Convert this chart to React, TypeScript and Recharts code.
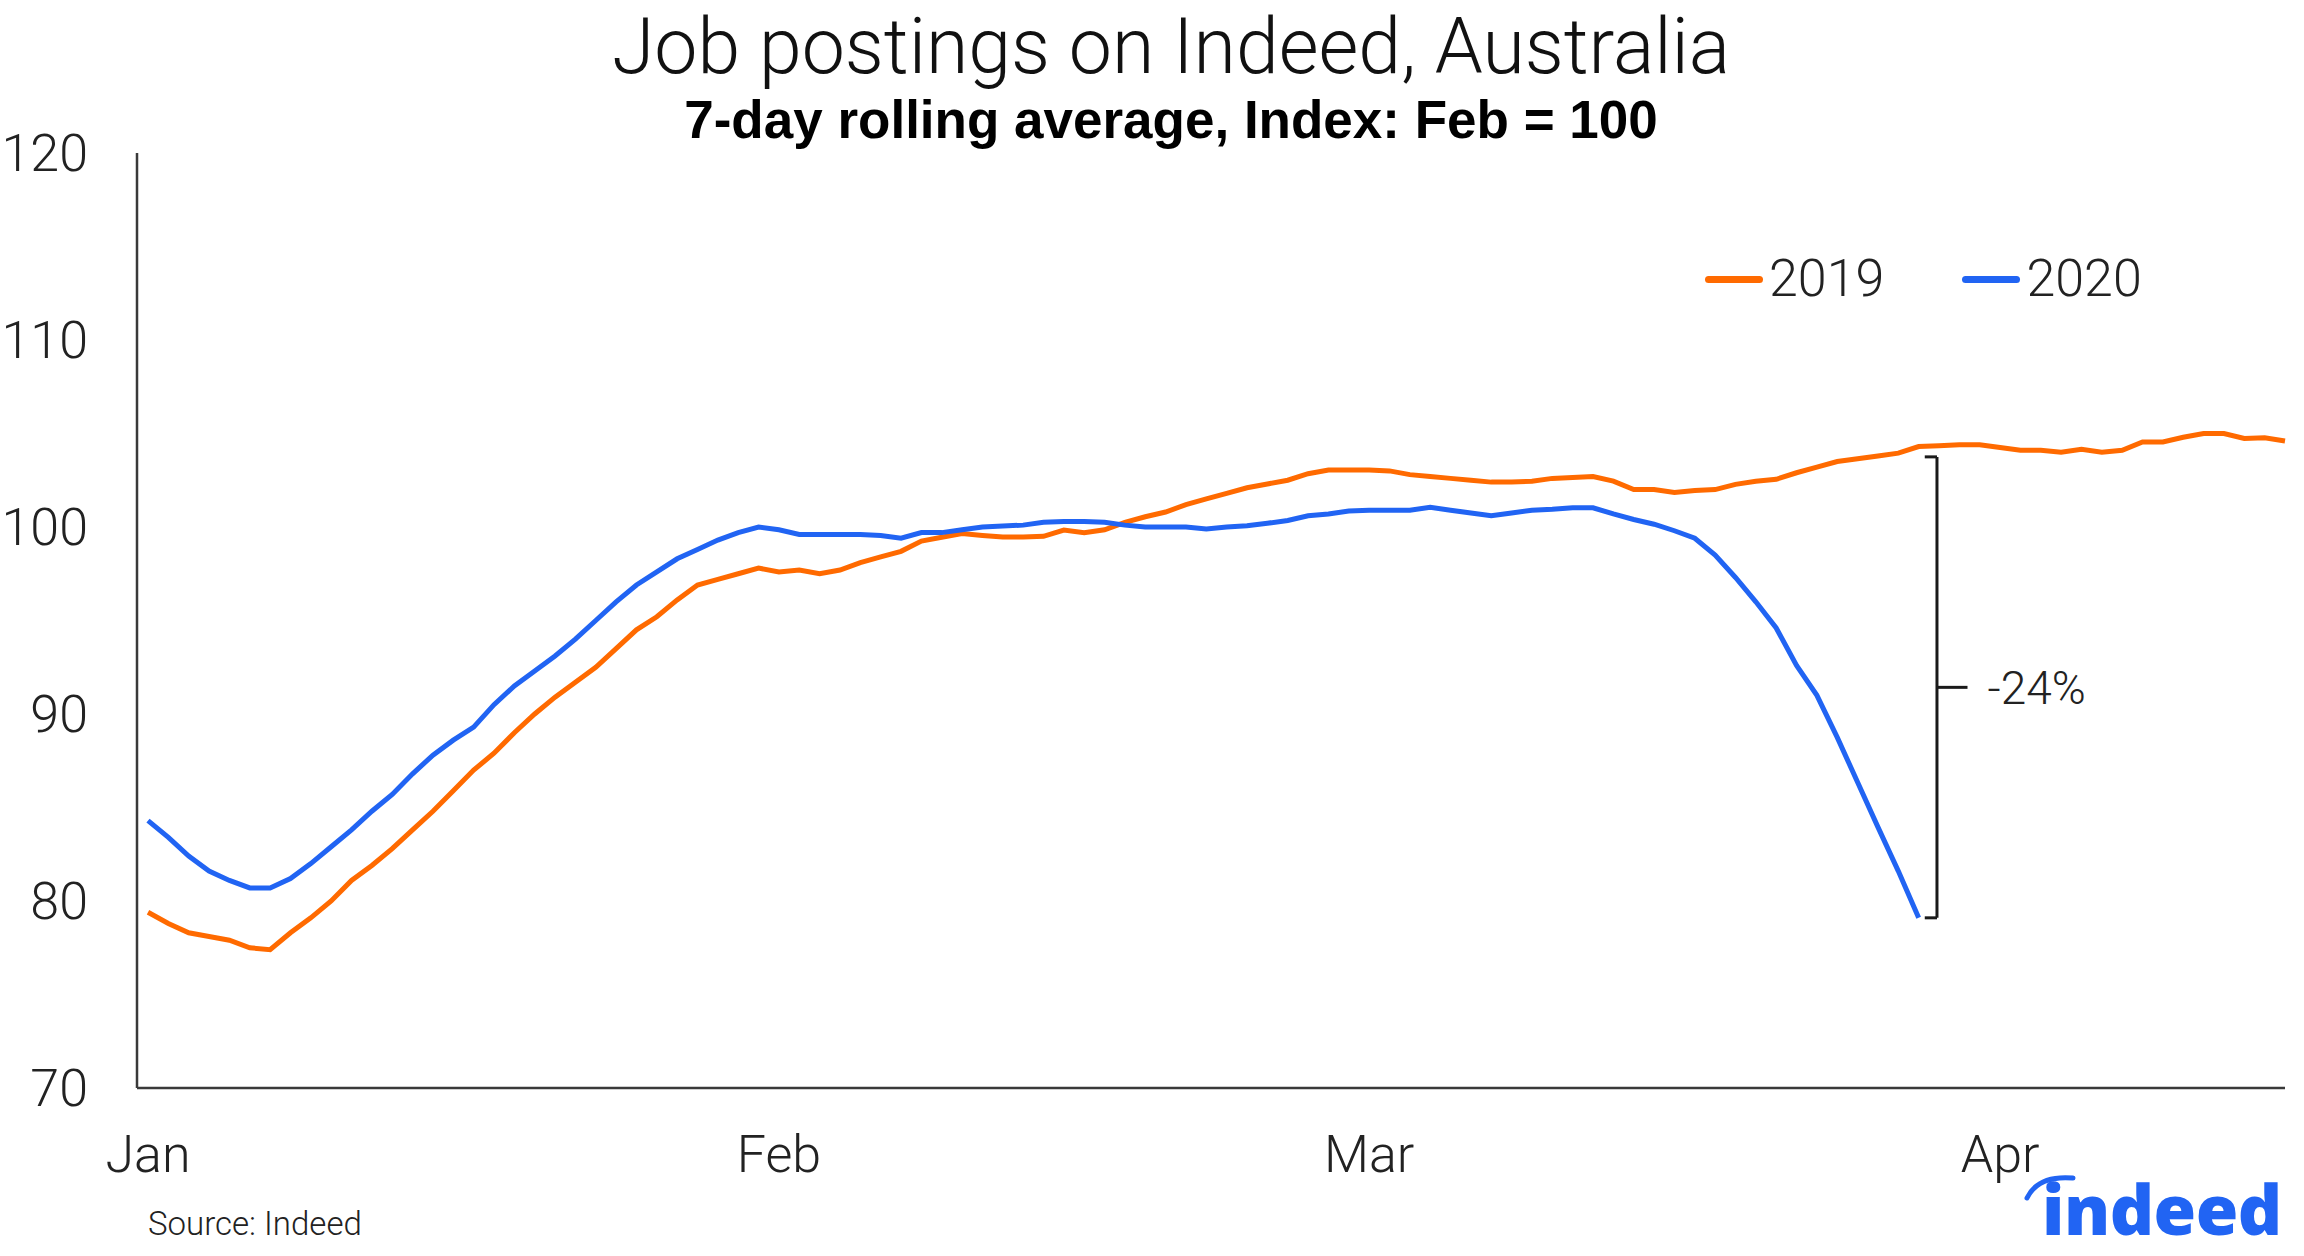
import { CSSProperties } from 'react'
import { Line, LineChart, ReferenceLine, XAxis, YAxis } from 'recharts'

// 7-day rolling average, index Feb = 100; one value per day starting 1 Jan
const POSTINGS_2019 = [
  79.4, 78.8, 78.3, 78.1, 77.9, 77.5, 77.4, 78.3, 79.1, 80.0,
  81.1, 81.9, 82.8, 83.8, 84.8, 85.9, 87.0, 87.9, 89.0, 90.0,
  90.9, 91.7, 92.5, 93.5, 94.5, 95.2, 96.1, 96.9, 97.2, 97.5,
  97.8, 97.6, 97.7, 97.5, 97.7, 98.1, 98.4, 98.7, 99.25, 99.45,
  99.65, 99.55, 99.47, 99.47, 99.5, 99.84, 99.7, 99.85, 100.25, 100.55,
  100.8, 101.2, 101.5, 101.8, 102.1, 102.3, 102.5, 102.85, 103.05, 103.05,
  103.05, 103.0, 102.8, 102.7, 102.6, 102.5, 102.4, 102.4, 102.45, 102.6,
  102.65, 102.7, 102.45, 102.0, 102.0, 101.85, 101.95, 102.0, 102.28, 102.45,
  102.55, 102.9, 103.2, 103.5, 103.65, 103.8, 103.95, 104.3, 104.35, 104.4,
  104.4, 104.25, 104.1, 104.1, 104.0, 104.15, 104.0, 104.1, 104.55, 104.55,
  104.8, 105.0, 105.0, 104.73, 104.77, 104.6,
]

const POSTINGS_2020 = [
  84.3, 83.4, 82.4, 81.6, 81.1, 80.7, 80.7, 81.2, 82.0, 82.9,
  83.8, 84.8, 85.7, 86.8, 87.8, 88.6, 89.3, 90.5, 91.5, 92.3,
  93.1, 94.0, 95.0, 96.0, 96.9, 97.6, 98.3, 98.8, 99.3, 99.7,
  100.0, 99.85, 99.6, 99.6, 99.6, 99.6, 99.55, 99.4, 99.7, 99.7,
  99.85, 100.0, 100.05, 100.1, 100.25, 100.3, 100.3, 100.25, 100.1, 100.0,
  100.0, 100.0, 99.9, 100.0, 100.07, 100.2, 100.35, 100.6, 100.7, 100.85,
  100.9, 100.9, 100.9, 101.05, 100.9, 100.75, 100.6, 100.75, 100.9, 100.95,
  101.03, 101.03, 100.7, 100.4, 100.15, 99.8, 99.4, 98.5, 97.3, 96.0,
  94.6, 92.6, 91.0, 88.75, 86.35, 83.95, 81.6, 79.1,
]

const MONTH_TICKS = [0, 31, 60, 91]
const MONTH_LABELS = ['Jan', 'Feb', 'Mar', 'Apr']
const Y_TICKS = [70, 80, 90, 100, 110, 120]

// bracket showing the gap between the years at the latest 2020 point
const GAP_TOP = 103.75
const GAP_BOTTOM = 79.1
const GAP_X = 87.9
const GAP_LABEL = '-24%'

const COLOR_2019 = '#ff6a00'
const COLOR_2020 = '#2164f3'
const INK = '#1a1a1a'
const LIGHT_FONT = 'Roboto, "Liberation Sans", Arial, sans-serif'

const SERIES = [
  { key: 'y2019', label: '2019', color: COLOR_2019 },
  { key: 'y2020', label: '2020', color: COLOR_2020 },
]

const data = POSTINGS_2019.map((v, i) => ({
  day: i,
  y2019: v,
  y2020: i < POSTINGS_2020.length ? POSTINGS_2020[i] : null,
}))

const tickStyle = { fill: '#222', fontSize: 52, fontFamily: LIGHT_FONT, fontWeight: 300 }

const abs: CSSProperties = { position: 'absolute', whiteSpace: 'nowrap' }

function YearLegend() {
  return (
    <div style={{ ...abs, left: 1705, top: 249, display: 'flex', alignItems: 'center', fontFamily: LIGHT_FONT, fontWeight: 300 }}>
      {SERIES.map((it, i) => (
        <div key={it.key} style={{ display: 'flex', alignItems: 'center', marginLeft: i ? 78 : 0 }}>
          <span style={{ width: 58, height: 7, borderRadius: 4, background: it.color, marginRight: 6 }} />
          <span style={{ fontSize: 52, color: '#222', lineHeight: '60px' }}>{it.label}</span>
        </div>
      ))}
    </div>
  )
}

function Logo() {
  return (
    <>
      <svg style={{ position: 'absolute', left: 2020, top: 1168, overflow: 'visible' }} width={60} height={34}>
        <path d="M 7 30 Q 18 7 53 10" fill="none" stroke={COLOR_2020} strokeWidth={5} strokeLinecap="round" />
      </svg>
      <div
        style={{
          ...abs,
          left: 2042,
          top: 1174,
          fontFamily: '"Open Sans", Roboto, sans-serif',
          fontWeight: 800,
          fontSize: 69,
          letterSpacing: -0.5,
          lineHeight: 1,
          color: COLOR_2020,
        }}
      >
        indeed
      </div>
    </>
  )
}

export default function App() {
  return (
    <div style={{ position: 'absolute', left: 0, top: 0, width: 2304, height: 1256, background: '#fff', overflow: 'hidden' }}>
      <div
        style={{
          ...abs,
          left: 1171,
          top: 9,
          transform: 'translateX(-50%)',
          fontFamily: LIGHT_FONT,
          fontWeight: 300,
          fontSize: 77,
          lineHeight: 1,
          color: '#111',
        }}
      >
        Job postings on Indeed, Australia
      </div>
      <div
        style={{
          ...abs,
          left: 1171,
          top: 93,
          transform: 'translateX(-50%)',
          fontFamily: '"Liberation Sans", Arial, sans-serif',
          fontWeight: 700,
          fontSize: 53,
          lineHeight: 1,
          color: '#000',
        }}
      >
        7-day rolling average, Index: Feb = 100
      </div>

      <LineChart width={2304} height={1256} data={data} margin={{ top: 153, right: 19, bottom: 100, left: 0 }}>
        <XAxis
          dataKey="day"
          type="number"
          domain={[0, 105]}
          ticks={MONTH_TICKS}
          tickFormatter={(v: number) => MONTH_LABELS[MONTH_TICKS.indexOf(v)]}
          padding={{ left: 11, right: 0 }}
          height={68}
          axisLine={{ stroke: '#3a3a3a', strokeWidth: 2.5 }}
          tickLine={false}
          tickSize={0}
          tickMargin={47}
          tick={tickStyle}
          interval={0}
        />
        <YAxis
          domain={[70, 120]}
          ticks={Y_TICKS}
          width={137}
          axisLine={{ stroke: '#3a3a3a', strokeWidth: 2.5 }}
          tickLine={false}
          tickSize={0}
          tickMargin={49}
          tick={tickStyle}
          interval={0}
        />
        {SERIES.map((s) => (
          <Line
            key={s.key}
            dataKey={s.key}
            name={s.label}
            type="linear"
            stroke={s.color}
            strokeWidth={5}
            dot={false}
            activeDot={false}
            isAnimationActive={false}
          />
        ))}
        <ReferenceLine
          segment={[{ x: GAP_X, y: GAP_TOP }, { x: GAP_X, y: GAP_BOTTOM }]}
          stroke={INK}
          strokeWidth={3}
        />
        <ReferenceLine
          segment={[{ x: GAP_X - 0.6, y: GAP_TOP }, { x: GAP_X, y: GAP_TOP }]}
          stroke={INK}
          strokeWidth={3}
        />
        <ReferenceLine
          segment={[{ x: GAP_X - 0.6, y: GAP_BOTTOM }, { x: GAP_X, y: GAP_BOTTOM }]}
          stroke={INK}
          strokeWidth={3}
        />
        <ReferenceLine
          segment={[
            { x: GAP_X, y: (GAP_TOP + GAP_BOTTOM) / 2 },
            { x: GAP_X + 1.5, y: (GAP_TOP + GAP_BOTTOM) / 2 },
          ]}
          stroke={INK}
          strokeWidth={3}
          label={{
            value: GAP_LABEL,
            position: 'right',
            offset: 20,
            fill: '#222',
            fontSize: 46,
            fontFamily: LIGHT_FONT,
            fontWeight: 300,
          }}
        />
      </LineChart>

      <YearLegend />

      <div style={{ ...abs, left: 148, top: 1207, fontFamily: LIGHT_FONT, fontWeight: 300, fontSize: 33, lineHeight: 1, color: '#222' }}>
        Source: Indeed
      </div>
      <Logo />
    </div>
  )
}
